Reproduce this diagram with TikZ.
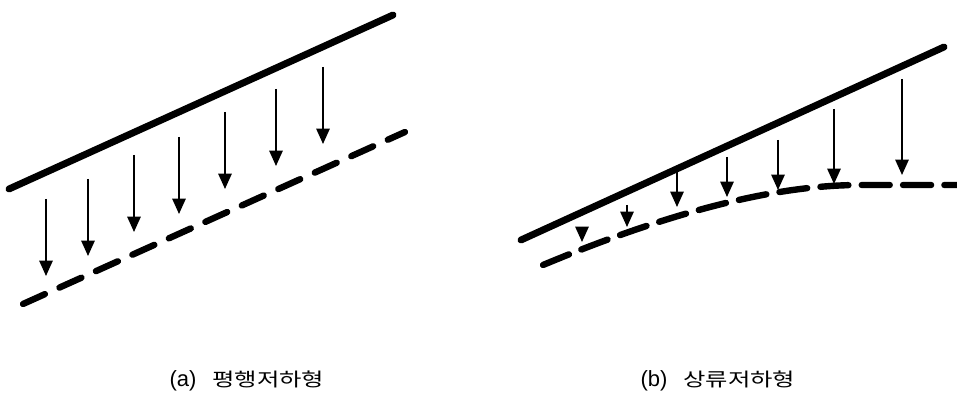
\documentclass[tikz,border=0pt]{standalone}
\usepackage{fontspec}
\setmainfont{Liberation Sans}
\newfontfamily\kor[Scale=0.85,FakeStretch=1.3]{Noto Sans CJK KR}
\usetikzlibrary{arrows.meta}

\begin{document}
\begin{tikzpicture}[x=0.75pt,y=-0.75pt,
  surface/.style={line width=5.2pt,line cap=round},
  lowered/.style={line width=4.8pt,line cap=round,dash pattern=on 18pt off 12pt},
  drop/.style={line width=1.3pt,-{Triangle[length=11.5pt,width=10pt]}},
  caption/.style={font=\fontsize{16.5}{20}\selectfont,inner sep=0pt,anchor=base}]
  \useasboundingbox (0,0) rectangle (957,406);
  % (a) parallel lowering
  \draw[surface] (9,189) -- (393,15);
  \draw[lowered] (23,304) -- (405,132);
  \foreach \x/\t in {46/199,88/179,134/155,179/137,225/112,276/89,323/67}
    \draw[drop] (\x,\t) -- (\x,\t+77);
  % (b) upstream lowering
  \draw[surface] (521,240) -- (944,47);
  \draw[lowered,dash pattern=on 21pt off 10pt] (543,265)
    .. controls (670,212) and (775,185) .. (860,185) -- (957,185);
  \foreach \x/\t/\b in {582/227/242,627/205/227,677/171/207,727/157/197,
                        778/140/190,834/109/184,902/79/175}
    \draw[drop] (\x,\t) -- (\x,\b);
  % captions
  \node[caption] (capa) at (247,386) {(a)\hspace{12pt}{\kor 평행저하형}};
  \node[caption] (capb) at (718,386) {(b)\hspace{12pt}{\kor 상류저하형}};
\end{tikzpicture}
\end{document}
